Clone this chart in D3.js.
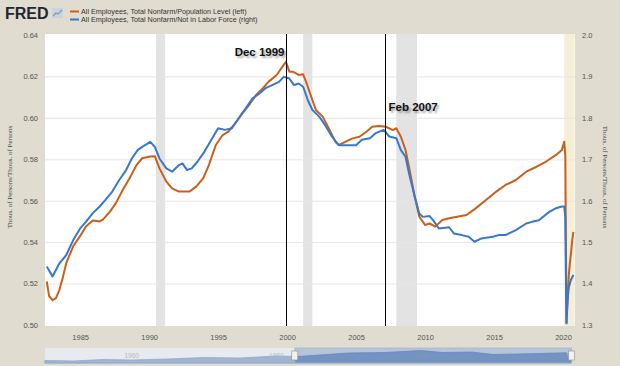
<!DOCTYPE html>
<html>
<head>
<meta charset="utf-8">
<script src="https://cdn.jsdelivr.net/npm/d3@7"></script>
<style>
body{margin:0;background:#e0dccf;}
svg{display:block;font-family:"Liberation Sans",Arial,sans-serif;}
.note{font-weight:bold;font-size:11.5px;fill:#111;text-shadow:2px 2px 2px rgba(0,0,0,0.35);}
</style>
</head>
<body>
<svg width="620" height="366"></svg>
<script>
"use strict";

// All Employees, Total Nonfarm / Population Level (left axis)
var popRatio=[
	["1982-08",0.521],["1982-10",0.514],["1983-01",0.512],["1983-04",0.513],["1983-07",0.517],
	["1983-10",0.523],["1984-01",0.530],["1984-07",0.538],["1985-01",0.543],["1985-06",0.5475],
	["1985-12",0.5505],["1986-06",0.550],["1986-09",0.551],["1987-03",0.5547],["1987-08",0.5587],
	["1988-02",0.5652],["1988-08",0.5708],["1989-02",0.5772],["1989-07",0.5805],["1990-02",0.5813],
	["1990-06",0.5815],["1990-10",0.5756],["1991-04",0.5692],["1991-09",0.566],["1992-03",0.5644],
	["1992-12",0.5644],["1993-06",0.5668],["1993-12",0.5708],["1994-05",0.5772],["1994-11",0.5869],
	["1995-05",0.5917],["1995-10",0.5933],["1996-05",0.5982],["1996-10",0.6022],["1997-04",0.6062],
	["1997-10",0.611],["1998-04",0.6143],["1998-09",0.6175],["1999-04",0.6207],["1999-09",0.6247],
	["1999-12",0.6271],["2000-03",0.6223],["2000-06",0.6223],["2000-11",0.6207],["2001-03",0.621],
	["2001-06",0.6167],["2001-10",0.6102],["2002-02",0.6038],["2002-08",0.6006],["2003-02",0.5941],
	["2003-07",0.5885],["2003-10",0.5869],["2004-04",0.5885],["2004-10",0.5901],["2005-04",0.5909],
	["2005-10",0.5933],["2006-03",0.5957],["2006-09",0.5961],["2007-03",0.5957],["2007-09",0.5941],
	["2007-12",0.595],["2008-04",0.5909],["2008-08",0.5845],["2008-11",0.5764],["2009-04",0.562],
	["2009-08",0.5523],["2010-01",0.5483],["2010-05",0.549],["2010-10",0.5475],["2011-04",0.5507],
	["2011-10",0.5515],["2012-05",0.5523],["2013-01",0.5531],["2013-09",0.5563],["2014-06",0.5603],
	["2015-03",0.5644],["2015-11",0.5676],["2016-08",0.570],["2017-05",0.574],["2018-02",0.5764],
	["2018-10",0.5788],["2019-07",0.5821],["2019-12",0.5845],["2020-02",0.5885],["2020-03",0.582],
	["2020-04",0.501],["2020-05",0.512],["2020-06",0.524],["2020-07",0.530],["2020-08",0.535],
	["2020-09",0.541],["2020-10",0.545]
];

// All Employees, Total Nonfarm / Not in Labor Force (right axis)
var nilfRatio=[
	["1982-08",1.441],["1983-01",1.417],["1983-07",1.449],["1984-01",1.469],["1984-07",1.505],
	["1985-01",1.533],["1985-06",1.549],["1985-12",1.570],["1986-06",1.586],["1986-11",1.602],
	["1987-05",1.622],["1987-11",1.650],["1988-05",1.674],["1988-10",1.702],["1989-03",1.722],
	["1989-07",1.730],["1990-02",1.742],["1990-06",1.730],["1990-10",1.702],["1991-04",1.678],
	["1991-09",1.670],["1992-03",1.686],["1992-06",1.690],["1992-10",1.674],["1993-02",1.678],
	["1993-07",1.694],["1994-01",1.718],["1994-06",1.742],["1995-01",1.775],["1995-07",1.771],
	["1996-01",1.775],["1996-07",1.799],["1997-01",1.823],["1997-07",1.847],["1998-01",1.859],
	["1998-06",1.871],["1998-12",1.879],["1999-06",1.887],["1999-10",1.899],["2000-03",1.895],
	["2000-07",1.879],["2000-11",1.883],["2001-03",1.875],["2001-07",1.843],["2001-11",1.819],
	["2002-05",1.803],["2002-10",1.783],["2003-04",1.755],["2003-10",1.734],["2004-04",1.734],
	["2005-01",1.734],["2005-06",1.747],["2006-01",1.751],["2006-06",1.763],["2007-01",1.771],
	["2007-06",1.755],["2007-12",1.751],["2008-04",1.722],["2008-08",1.706],["2008-11",1.666],
	["2009-04",1.610],["2009-08",1.569],["2009-11",1.561],["2010-05",1.563],["2010-08",1.553],
	["2011-01",1.533],["2011-10",1.536],["2012-02",1.521],["2012-09",1.517],["2013-03",1.513],
	["2013-08",1.501],["2014-02",1.509],["2014-12",1.513],["2015-05",1.517],["2015-11",1.517],
	["2016-08",1.529],["2017-05",1.545],["2017-10",1.549],["2018-04",1.553],["2019-01",1.573],
	["2019-07",1.582],["2019-12",1.586],["2020-02",1.586],["2020-03",1.560],["2020-04",1.304],
	["2020-05",1.360],["2020-06",1.390],["2020-07",1.400],["2020-08",1.410],["2020-09",1.415],
	["2020-10",1.421]
];

var recessions=[["1990-07","1991-03"],["2001-03","2001-11"],["2007-12","2009-06"]];
var lastRecession=["2020-02","2020-11"];
var marks=[["1999-12","Dec 1999"],["2007-02","Feb 2007"]];

var leftTicks=[0.50,0.52,0.54,0.56,0.58,0.60,0.62,0.64];
var rightTicks=[1.3,1.4,1.5,1.6,1.7,1.8,1.9,2.0];
var yearTicks=[1985,1990,1995,2000,2005,2010,2015,2020];

var seriesNames=["All Employees, Total Nonfarm/Population Level (left)",
	"All Employees, Total Nonfarm/Not in Labor Force (right)"];
var axisTitle="Thous. of Persons/Thous. of Persons";

// small navigator strip under the chart
var navLevels=[[1948,0.43],[1952,0.42],[1956,0.45],[1960,0.44],[1965,0.46],[1970,0.49],
	[1975,0.48],[1980,0.52],[1983,0.51],[1990,0.58],[1995,0.59],[2000,0.63],[2003,0.59],
	[2007,0.60],[2010,0.55],[2015,0.565],[2020.1,0.585],[2020.3,0.50],[2020.8,0.545]];
var navTicks=[1960,1980,2000,2020];
var navWindow=[1982.55,2020.85];

function chart(){

	var parse=d3.timeParse("%Y-%m");
	var svg=d3.select("svg");

	var xScale=d3.scaleTime().domain([new Date(1982,5,15),new Date(2020,10,13)]).range([45,575]);
	var yLeft=d3.scaleLinear().domain([0.50,0.64]).range([325,35]);
	var yRight=d3.scaleLinear().domain([1.3,2.0]).range([325,35]);

	// plot background
	svg.append("rect").attr("x",45).attr("y",34).attr("width",530).attr("height",292).attr("fill","#fff");

	svg.append("g").selectAll("rect")
		.data(recessions)
		.enter()
		.append("rect")
		.attr("x",function(d){return xScale(parse(d[0]));})
		.attr("width",function(d){return xScale(parse(d[1]))-xScale(parse(d[0]));})
		.attr("y",34).attr("height",292)
		.attr("fill","#e3e3e3");

	svg.append("rect")
		.attr("x",xScale(parse(lastRecession[0])))
		.attr("width",xScale(parse(lastRecession[1]))-xScale(parse(lastRecession[0])))
		.attr("y",34).attr("height",292)
		.attr("fill","#f4efd6");

	// gridlines
	svg.append("g")
		.attr("transform","translate(45,0)")
		.call(d3.axisLeft(yLeft).tickValues(leftTicks.slice(1,-1)).tickSize(-530).tickFormat(""))
		.call(function(g){g.select(".domain").remove();})
		.selectAll("line").attr("stroke","#e6e6e6");

	// axes labels
	var lAxis=svg.append("g")
		.attr("transform","translate(40,0)")
		.call(d3.axisLeft(yLeft).tickValues(leftTicks).tickSize(0).tickFormat(d3.format(".2f")));
	var rAxis=svg.append("g")
		.attr("transform","translate(580,0)")
		.call(d3.axisRight(yRight).tickValues(rightTicks).tickSize(0).tickFormat(d3.format(".1f")));
	var xAxis=svg.append("g")
		.attr("transform","translate(0,332)")
		.call(d3.axisBottom(xScale).tickValues(yearTicks.map(function(y){return new Date(y,0,1);}))
			.tickSize(0).tickFormat(d3.timeFormat("%Y")));
	[lAxis,rAxis,xAxis].forEach(function(a){
		a.select(".domain").remove();
		a.selectAll("text").attr("fill","#555").style("font-size","7.5px")
			.style("font-family","'Liberation Sans',Arial,sans-serif");
	});
	lAxis.selectAll("text").attr("x",-2);
	rAxis.selectAll("text").attr("x",2);

	svg.append("text")
		.attr("transform","translate(12,177) rotate(-90)")
		.attr("text-anchor","middle").attr("fill","#444").style("font-size","7px")
		.style("font-family","'Liberation Serif',serif")
		.text(axisTitle);
	svg.append("text")
		.attr("transform","translate(603,177) rotate(90)")
		.attr("text-anchor","middle").attr("fill","#444").style("font-size","7px")
		.style("font-family","'Liberation Serif',serif")
		.text(axisTitle);

	// series
	var leftLine=d3.line()
		.x(function(d){return xScale(parse(d[0]));})
		.y(function(d){return yLeft(d[1]);});
	var rightLine=d3.line()
		.x(function(d){return xScale(parse(d[0]));})
		.y(function(d){return yRight(d[1]);});

	svg.append("path")
		.attr("d",leftLine(popRatio))
		.attr("fill","none").attr("stroke","#c8601c").attr("stroke-width",2).attr("stroke-linejoin","round");
	svg.append("path")
		.attr("d",rightLine(nilfRatio))
		.attr("fill","none").attr("stroke","#3877cc").attr("stroke-width",2).attr("stroke-linejoin","round");

	// marker lines and notes
	marks.forEach(function(m,i){
		var mx=Math.round(xScale(parse(m[0])))+0.5;
		svg.append("line").attr("x1",mx).attr("x2",mx).attr("y1",34).attr("y2",326)
			.attr("stroke","#000").attr("stroke-width",1);
		svg.append("text")
			.attr("class","note")
			.attr("x",i===0 ? mx-2 : mx+3)
			.attr("y",i===0 ? 56 : 111)
			.attr("text-anchor",i===0 ? "end" : "start")
			.text(m[1]);
	});

	// header: logo and legend
	svg.append("text").attr("x",5).attr("y",18.5)
		.style("font-size","16px").style("font-weight","bold").attr("fill","#1d2733")
		.text("FRED");
	var icon=svg.append("g").attr("transform","translate(52,8)");
	icon.append("rect").attr("width",11).attr("height",10).attr("fill","#c9d3dc");
	icon.append("polyline").attr("points","1,8 4,5 6,6 10,2")
		.attr("fill","none").attr("stroke","#7f9bb5").attr("stroke-width",1.2);

	var legend=svg.append("g").selectAll("g")
		.data(seriesNames)
		.enter()
		.append("g")
		.attr("transform",function(d,i){return "translate(70,"+(11.5+i*8)+")";});
	legend.append("line").attr("x1",0).attr("x2",9)
		.attr("stroke",function(d,i){return i===0 ? "#c8601c" : "#3877cc";}).attr("stroke-width",2);
	legend.append("text").attr("x",11).attr("y",2.5)
		.style("font-size","7.2px").attr("fill","#333")
		.text(function(d){return d;});

	// navigator
	var navX=d3.scaleLinear().domain([1948,2020.9]).range([45,572]);
	var navY=d3.scaleLinear().domain([0.40,0.66]).range([362,349]);
	svg.append("rect").attr("x",45).attr("y",348).attr("width",527).attr("height",15)
		.attr("fill","#dfe3ea");
	svg.append("path")
		.attr("d",d3.area()
			.x(function(d){return navX(d[0]);})
			.y0(363)
			.y1(function(d){return navY(d[1]);})(navLevels))
		.attr("fill","#7f9cc6").attr("stroke","#6d8cbb").attr("stroke-width",0.8);
	svg.append("g").selectAll("text")
		.data(navTicks)
		.enter()
		.append("text")
		.attr("x",function(d){return navX(d);})
		.attr("y",358)
		.attr("text-anchor","middle")
		.style("font-size","6.5px").attr("fill","#9aa3ad")
		.text(function(d){return d;});
	svg.append("rect")
		.attr("x",45).attr("y",348).attr("width",navX(navWindow[0])-45).attr("height",15)
		.attr("fill","rgba(255,255,255,0.25)");
	svg.append("rect")
		.attr("x",navX(navWindow[0])).attr("y",348)
		.attr("width",navX(navWindow[1])-navX(navWindow[0])).attr("height",15)
		.attr("fill","rgba(90,125,185,0.3)").attr("stroke","#a9b7cc").attr("stroke-width",0.8);
	svg.append("g").selectAll("rect")
		.data(navWindow)
		.enter()
		.append("rect")
		.attr("x",function(d){return navX(d)-3;})
		.attr("y",351).attr("width",6).attr("height",9)
		.attr("fill","#f2f2f2").attr("stroke","#999").attr("stroke-width",0.7);
}

chart();
</script>
</body>
</html>
